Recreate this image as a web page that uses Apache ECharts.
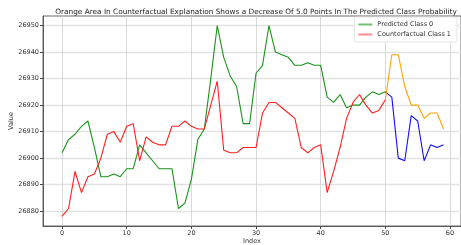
<!DOCTYPE html>
<html>
<head>
<meta charset="utf-8">
<script src="https://cdn.jsdelivr.net/npm/echarts@6/dist/echarts.min.js"></script>
<style>
  html, body { margin: 0; padding: 0; background: #fff; }
  #chart { width: 461px; height: 245px; }
</style>
</head>
<body>
<div id="chart"></div>
<script>
// values
var predicted = [26902, 26907, 26909, 26912, 26914, 26904, 26893, 26893, 26894, 26893,
  26896, 26896, 26905, 26902, 26899, 26896, 26896, 26896, 26881, 26883,
  26892, 26907, 26911, 26930, 26950, 26938, 26931, 26927, 26913, 26913,
  26932, 26935, 26950, 26940, 26939, 26938, 26935, 26935, 26936, 26935,
  26935, 26923, 26921, 26924, 26919, 26920, 26920, 26923, 26925, 26924, 26925];
var counterfactual = [26878, 26881, 26895, 26887, 26893, 26894, 26900, 26909, 26910, 26906,
  26912, 26913, 26899, 26908, 26906, 26905, 26905, 26912, 26912, 26914,
  26912, 26911, 26911, 26920, 26929, 26903, 26902, 26902, 26904, 26904,
  26904, 26917, 26921, 26921, 26919, 26917, 26915, 26904, 26902, 26904,
  26905, 26887, 26895, 26904, 26915, 26921, 26924, 26920, 26917, 26918, 26922];
// last segment, index 50..59
var predictedTail = [26925, 26923, 26900, 26899, 26916, 26914, 26899, 26905, 26904, 26905];
var counterTail = [26922, 26939, 26939, 26927, 26920, 26920, 26915, 26917, 26917, 26911];
var tailStart = 50;
var xTicks = [0, 10, 20, 30, 40, 50, 60];
var yTicks = [26880, 26890, 26900, 26910, 26920, 26930, 26940, 26950];

function pairs(arr, start) {
  return arr.map(function (v, i) { return [start + i, v]; });
}

var myChart = echarts.init(document.getElementById('chart'));
var font = 'DejaVu Sans';
var option = {
  animation: false,
  title: {
    text: 'Orange Area In Counterfactual Explanation Shows a Decrease Of 5.0 Points In The Predicted Class Probability',
    left: 251, top: 4, textAlign: 'center',
    textStyle: { fontFamily: font, fontSize: 7.35, fontWeight: 'normal', color: '#222' }
  },
  legend: {
    right: 4, top: 17, orient: 'vertical', itemGap: 3,
    itemWidth: 14, itemHeight: 2, icon: 'rect',
    padding: [4, 6, 4, 4],
    backgroundColor: '#fff', borderColor: '#ddd', borderWidth: 0.8, borderRadius: 2,
    textStyle: { fontFamily: font, fontSize: 6.5, color: '#333' },
    data: [
      { name: 'Predicted Class 0', itemStyle: { color: 'rgba(20,150,20,0.6)' } },
      { name: 'Counterfactual Class 1', itemStyle: { color: 'rgba(255,0,0,0.45)' } }
    ]
  },
  grid: {
    left: 43, right: 0, top: 16, bottom: 19, outerBoundsMode: 'none', containLabel: false,
    show: true, borderColor: '#444', borderWidth: 0.8
  },
  xAxis: {
    type: 'value', min: -2.95, max: 61.7,
    name: 'Index', nameLocation: 'middle', nameGap: 12, nameMoveOverlap: false,
    nameTextStyle: { fontFamily: font, fontSize: 6.5, color: '#333' },
    axisLine: { show: true, onZero: false, lineStyle: { color: '#444', width: 0.8 } },
    axisTick: { show: true, length: 3, customValues: xTicks, lineStyle: { color: '#444' } },
    axisLabel: { customValues: xTicks, fontFamily: font, fontSize: 6.5, color: '#333', margin: 4 },
    splitLine: { show: true, lineStyle: { color: '#d0d0d0', width: 0.8 } }
  },
  yAxis: {
    type: 'value', min: 26874.4, max: 26953.6,
    name: 'Value', nameLocation: 'middle', nameGap: 28, nameMoveOverlap: false,
    nameTextStyle: { fontFamily: font, fontSize: 6.5, color: '#333' },
    axisLine: { show: true, onZero: false, lineStyle: { color: '#444', width: 0.8 } },
    axisTick: { show: true, length: 3, customValues: yTicks, lineStyle: { color: '#444' } },
    axisLabel: {
      customValues: yTicks, fontFamily: font, fontSize: 6.5, color: '#333', margin: 4,
      formatter: function (v) { return String(v); }
    },
    splitLine: { show: true, lineStyle: { color: '#e2e2e2', width: 1.4 } }
  },
  series: [
    {
      name: 'Predicted Class 0', type: 'line', showSymbol: false, symbol: 'none',
      data: pairs(predicted, 0), lineStyle: { color: '#1a931a', width: 1.1 }, itemStyle: { color: '#1a931a' }
    },
    {
      name: 'Counterfactual Class 1', type: 'line', showSymbol: false, symbol: 'none',
      data: pairs(counterfactual, 0), lineStyle: { color: '#ff2020', width: 1.1 }, itemStyle: { color: '#ff2020' }
    },
    {
      name: 'tailPred', type: 'line', showSymbol: false, symbol: 'none',
      data: pairs(predictedTail, tailStart), lineStyle: { color: '#1010ee', width: 1.1 }
    },
    {
      name: 'tailCounter', type: 'line', showSymbol: false, symbol: 'none',
      data: pairs(counterTail, tailStart), lineStyle: { color: '#ffa500', width: 1.1 }
    }
  ]
};
myChart.setOption(option);
</script>
</body>
</html>
